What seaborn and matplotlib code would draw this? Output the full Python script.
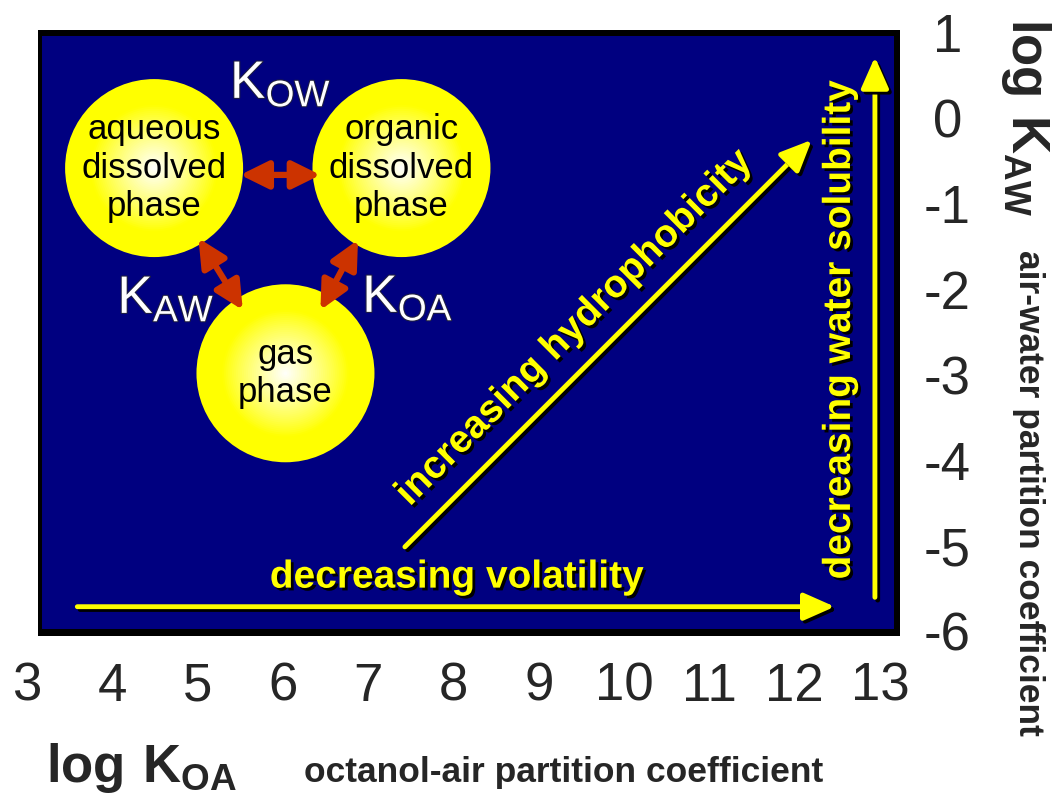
import matplotlib
matplotlib.use('Agg')
import matplotlib.pyplot as plt
import matplotlib.patheffects as pe
from matplotlib.patches import Rectangle
import pandas as pd
import seaborn as sns

# axis ticks (log KOA along the bottom, log KAW on the right)
x_ticks = [3, 4, 5, 6, 7, 8, 9, 10, 11, 12, 13]
y_ticks = [1, 0, -1, -2, -3, -4, -5, -6]

# the three phases, placed on the log KOA / log KAW grid
phase_names = ['aqueous\ndissolved\nphase', 'organic\ndissolved\nphase', 'gas\nphase']
phase_x = [4.49, 7.39, 6.03]
phase_y = [-0.58, -0.58, -2.98]

# partition coefficients linking the phases (double arrows + labels)
link_labels = [r'$\mathregular{K_{OW}}$', r'$\mathregular{K_{AW}}$', r'$\mathregular{K_{OA}}$']
link_start_x = [5.50, 5.01, 6.88]
link_start_y = [-0.66, -1.40, -1.42]
link_end_x = [6.44, 5.53, 6.44]
link_end_y = [-0.66, -2.24, -2.24]
label_x = [5.38, 4.06, 6.93]
label_y = [0.24, -2.275, -2.263]

# trends across the chart
trend_labels = ['decreasing volatility', 'increasing hydrophobicity', 'decreasing water solubility']
trend_start_x = [3.59, 7.43, 12.94]
trend_start_y = [-5.71, -5.01, -5.60]
trend_end_x = [12.47, 12.20, 12.94]
trend_end_y = [-5.71, -0.25, 0.72]
trend_text_x = [8.04, 9.42, 12.53]
trend_text_y = [-5.37, -2.45, -2.47]
trend_angle = [0, 45, 90]

YELLOW = '#ffff00'
NAVY = '#000080'
RED = '#cc3300'

sns.set_style('white')
plt.rcParams['font.family'] = ['Liberation Sans', 'DejaVu Sans']

fig = plt.figure(figsize=(10.53, 7.97), dpi=100)
ax = fig.add_axes([20 / 1053, 1 - 645 / 797, 880 / 1053, 615 / 797])

# navy panel with a black frame (heavier on the right / bottom)
ax.add_patch(Rectangle((3.129, -6.053), 10.117, 7.088, facecolor='black', edgecolor='none', zorder=1))
ax.add_patch(Rectangle((3.176, -5.971), 9.988, 6.936, facecolor=NAVY, edgecolor='none', zorder=1.5))

# phase bubbles: stacked discs give the white-to-yellow radial glow
phases = pd.DataFrame({'x': phase_x, 'y': phase_y})
n_layers = 45
r_px = 89
for k in range(n_layers):
    t = 1 - k / n_layers
    w = max(0.0, 1 - t / 0.72) ** 0.9
    s = (2 * r_px * t * 72 / 100) ** 2
    sns.scatterplot(data=phases, x='x', y='y', s=s, color=(1, 1, w), linewidth=0,
                    edgecolor='none', ax=ax, legend=False, zorder=3)

for name, x, y in zip(phase_names, phase_x, phase_y):
    ax.text(x, y, name, ha='center', va='center', fontsize=25, linespacing=1.2,
            color='black', zorder=6)

# red double arrows between phases
for sx, sy, ex, ey in zip(link_start_x, link_start_y, link_end_x, link_end_y):
    ax.annotate('', xy=(ex, ey), xytext=(sx, sy),
                arrowprops=dict(arrowstyle='<|-|>,head_length=0.85,head_width=0.42',
                                mutation_scale=20, color=RED, lw=4.5,
                                shrinkA=0, shrinkB=0), zorder=4)

for lab, x, y in zip(link_labels, label_x, label_y):
    ax.text(x, y, lab, ha='left', va='baseline', fontsize=38, color='white', zorder=6,
            path_effects=[pe.withStroke(linewidth=1.5, foreground='#202040')])

# yellow trend arrows with a dark drop shadow
shadow = [pe.SimpleLineShadow(offset=(2, -2), shadow_color='black', alpha=1),
          pe.SimplePatchShadow(offset=(2, -2), shadow_rgbFace='black', alpha=1),
          pe.Normal()]
for sx, sy, ex, ey in zip(trend_start_x, trend_start_y, trend_end_x, trend_end_y):
    ax.annotate('', xy=(ex, ey), xytext=(sx, sy),
                arrowprops=dict(arrowstyle='-|>,head_length=0.95,head_width=0.42',
                                mutation_scale=20, color=YELLOW, lw=3.5,
                                shrinkA=0, shrinkB=0, path_effects=shadow), zorder=4)

for lab, x, y, ang in zip(trend_labels, trend_text_x, trend_text_y, trend_angle):
    ax.text(x, y, lab, rotation=ang, rotation_mode='anchor', ha='center', va='center',
            fontsize=28, fontweight='bold', color=YELLOW, zorder=6,
            path_effects=[pe.SimplePatchShadow(offset=(2, -2), shadow_rgbFace='black', alpha=1),
                          pe.Normal()])

# axes: ticks only as labels, bottom and right
ax.set_xlim(2.918, 13.234)
ax.set_ylim(-6.158, 1.035)
ax.set_xticks(x_ticks, labels=[str(v) for v in x_ticks])
ax.yaxis.tick_right()
ax.set_yticks(y_ticks, labels=[str(v) for v in y_ticks], ha='center')
ax.tick_params(axis='x', length=0, pad=12, labelsize=38)
ax.tick_params(axis='y', length=0, pad=34, labelsize=38)
ax.set_xlabel('')
ax.set_ylabel('')
for sp in ax.spines.values():
    sp.set_visible(False)

# axis titles
fig.text(46 / 1053, 1 - 782 / 797, r'$\mathregular{log\ K_{OA}}$', fontsize=38,
         fontweight='bold', ha='left', va='baseline')
fig.text(304 / 1053, 1 - 782 / 797, 'octanol-air partition coefficient', fontsize=25.5,
         fontweight='bold', ha='left', va='baseline')
fig.text(1012 / 1053, 1 - 18 / 797, r'$\mathregular{log\ K_{AW}}$', rotation=-90,
         rotation_mode='anchor', fontsize=38, fontweight='bold', ha='left', va='baseline')
fig.text(1019 / 1053, 1 - 250 / 797, 'air-water partition coefficient', rotation=-90,
         rotation_mode='anchor', fontsize=25.5, fontweight='bold', ha='left', va='baseline')

fig.savefig('out.png', dpi=100)
